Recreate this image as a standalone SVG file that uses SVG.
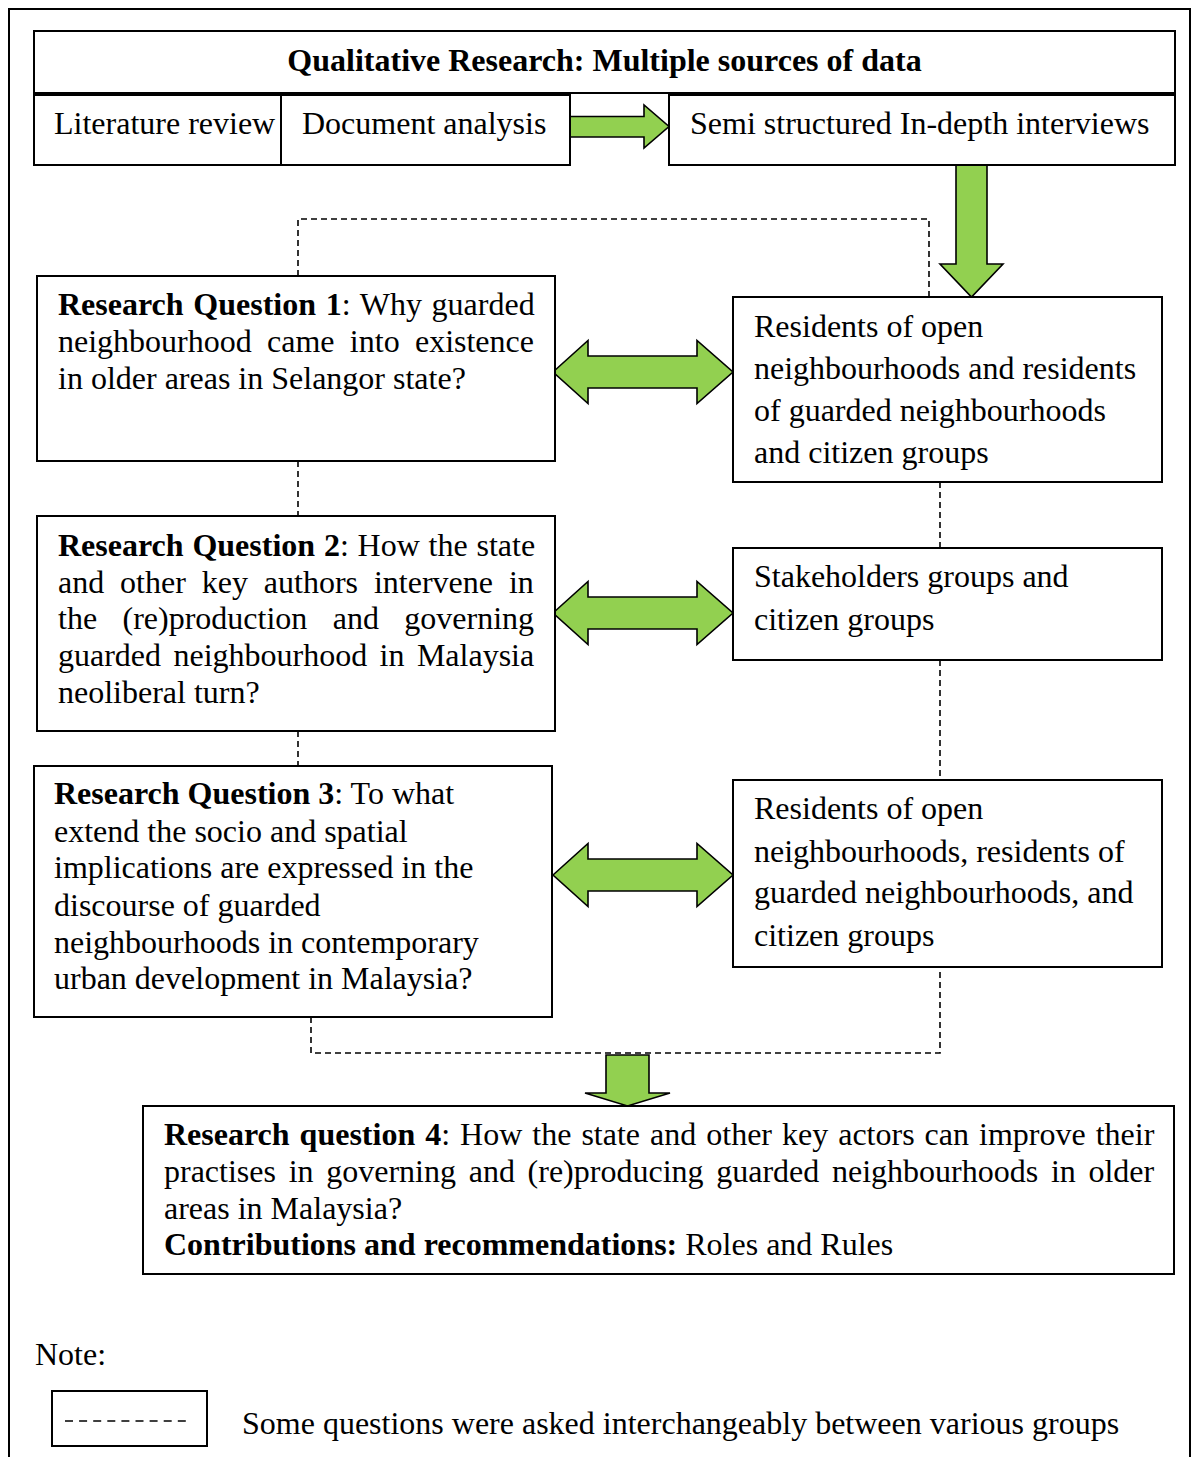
<svg xmlns="http://www.w3.org/2000/svg" width="1192" height="1457" viewBox="0 0 1192 1457">
  <style>
    .box { fill: #ffffff; stroke: #000000; stroke-width: 2; }
    .frame { fill: none; stroke: #000000; stroke-width: 2; }
    .dash { fill: none; stroke: #000000; stroke-width: 1.6; stroke-dasharray: 6 4; }
    .green { fill: #92D050; stroke: #000000; stroke-width: 1.6; stroke-linejoin: miter; }
    text { font-family: "Liberation Serif", "Times New Roman", serif; font-size: 32px; fill: #000000; }
    .b { font-weight: bold; }
  </style>
  <defs>
    <!-- two-headed block arrow, centred on its own origin, 180 wide -->
    <polygon id="dbl" class="green" points="0,0 35,-31.5 35,-16 144,-16 144,-31.5 180,0 144,31.5 144,16 35,16 35,31.5"/>
  </defs>

  <rect width="1192" height="1457" fill="#ffffff"/>
  <!-- outer frame, open at the bottom -->
  <path class="frame" d="M9 1457 V9 H1190 V1457"/>

  <!-- dashed links between questions and groups -->
  <g id="connectors">
    <path class="dash" d="M298 276 V219 H929 V297"/>
    <path class="dash" d="M298 461 V516"/>
    <path class="dash" d="M298 731 V766"/>
    <path class="dash" d="M940 482 V548"/>
    <path class="dash" d="M940 660 V780"/>
    <path class="dash" d="M311 1017 V1053 H940 V967"/>
    <polygon class="green" points="570,116.5 644,116.5 644,105 669,126.5 644,148 644,137 570,137"/>
    <polygon class="green" points="956,165 987,165 987,264 1003,264 971.5,297 940,264 956,264"/>
    <use href="#dbl" x="553" y="372"/>
    <use href="#dbl" x="553" y="613"/>
    <use href="#dbl" x="553" y="875"/>
    <polygon class="green" points="606,1055 649,1055 649,1093 670,1093 627.5,1106 585,1093 606,1093"/>
  </g>

  <g id="header">
    <rect class="box" x="34" y="31" width="1141" height="62"/>
    <text class="b" x="604.5" y="71" text-anchor="middle">Qualitative Research: Multiple sources of data</text>
  </g>
  <g id="literature">
    <rect class="box" x="34" y="95" width="247" height="70"/>
    <text x="54" y="134">Literature review</text>
  </g>
  <g id="documents">
    <rect class="box" x="281" y="95" width="289" height="70"/>
    <text x="302" y="134">Document analysis</text>
  </g>
  <g id="interviews">
    <rect class="box" x="669" y="95" width="506" height="70"/>
    <text x="690" y="134">Semi structured In-depth interviews</text>
  </g>

  <g id="rq1">
    <rect class="box" x="37" y="276" width="518" height="185"/>
    <text x="58" y="315" word-spacing="1.7"><tspan class="b">Research Question 1</tspan>: Why guarded</text>
    <text x="58" y="352" word-spacing="7.3">neighbourhood came into existence</text>
    <text x="58" y="389">in older areas in Selangor state?</text>
  </g>
  <g id="groups1">
    <rect class="box" x="733" y="297" width="429" height="185"/>
    <text x="754" y="337">Residents of open</text>
    <text x="754" y="379">neighbourhoods and residents</text>
    <text x="754" y="421">of guarded neighbourhoods</text>
    <text x="754" y="463">and citizen groups</text>
  </g>

  <g id="rq2">
    <rect class="box" x="37" y="516" width="518" height="215"/>
    <text x="58" y="556" word-spacing="0.8"><tspan class="b">Research Question 2</tspan>: How the state</text>
    <text x="58" y="593" word-spacing="7.9">and other key authors intervene in</text>
    <text x="58" y="629" word-spacing="17.4">the (re)production and governing</text>
    <text x="58" y="666" word-spacing="4.4">guarded neighbourhood in Malaysia</text>
    <text x="58" y="703">neoliberal turn?</text>
  </g>
  <g id="groups2">
    <rect class="box" x="733" y="548" width="429" height="112"/>
    <text x="754" y="587">Stakeholders groups and</text>
    <text x="754" y="630">citizen groups</text>
  </g>

  <g id="rq3">
    <rect class="box" x="34" y="766" width="518" height="251"/>
    <text x="54" y="804"><tspan class="b">Research Question 3</tspan>: To what</text>
    <text x="54" y="842">extend the socio and spatial</text>
    <text x="54" y="878">implications are expressed in the</text>
    <text x="54" y="916">discourse of guarded</text>
    <text x="54" y="953">neighbourhoods in contemporary</text>
    <text x="54" y="989">urban development in Malaysia?</text>
  </g>
  <g id="groups3">
    <rect class="box" x="733" y="780" width="429" height="187"/>
    <text x="754" y="819">Residents of open</text>
    <text x="754" y="862">neighbourhoods, residents of</text>
    <text x="754" y="903">guarded neighbourhoods, and</text>
    <text x="754" y="946">citizen groups</text>
  </g>

  <g id="rq4">
    <rect class="box" x="143" y="1106" width="1031" height="168"/>
    <text x="164" y="1145" word-spacing="2.0"><tspan class="b">Research question 4</tspan>: How the state and other key actors can improve their</text>
    <text x="164" y="1182" word-spacing="4.7">practises in governing and (re)producing guarded neighbourhoods in older</text>
    <text x="164" y="1219">areas in Malaysia?</text>
    <text x="164" y="1255"><tspan class="b">Contributions and recommendations:</tspan> Roles and Rules</text>
  </g>

  <g id="legend">
    <text x="35" y="1365">Note:</text>
    <rect class="box" x="52" y="1391" width="155" height="55"/>
    <line x1="65" y1="1421" x2="186" y2="1421" stroke="#000000" stroke-width="1.5" stroke-dasharray="8 6.1"/>
    <text x="242" y="1434">Some questions were asked interchangeably between various groups</text>
  </g>
</svg>
